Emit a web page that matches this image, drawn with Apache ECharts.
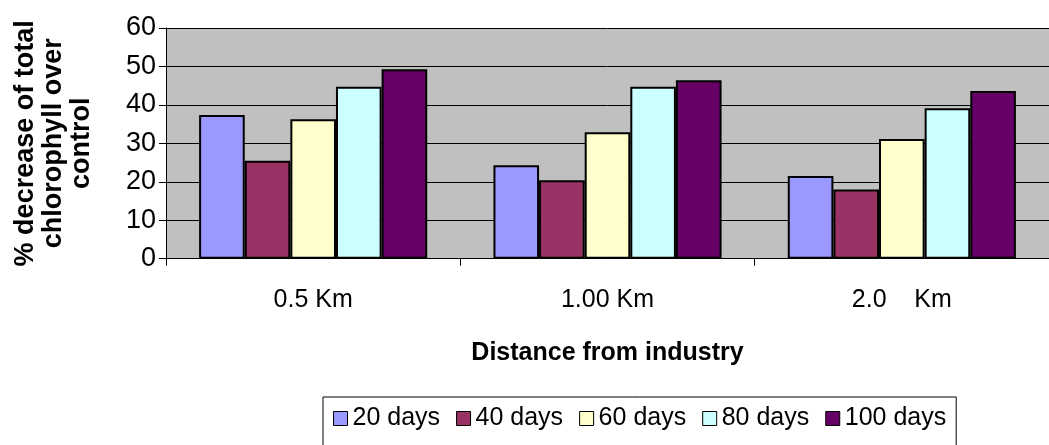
<!DOCTYPE html>
<html>
<head>
<meta charset="utf-8">
<script src="https://cdn.jsdelivr.net/npm/echarts@6/dist/echarts.min.js"></script>
<style>
  html, body { margin: 0; padding: 0; background: #ffffff; }
  #chart { width: 1049px; height: 445px; }
</style>
</head>
<body>
<div id="chart"></div>
<script>
// Distances from the industry (category axis)
var categories = ['0.5 Km', '1.00 Km', '2.0    Km'];

// % decrease of total chlorophyll over control, per exposure period
var days20  = [37.4, 24.3, 21.5];
var days40  = [25.5, 20.4, 18.0];
var days60  = [36.3, 32.9, 31.1];
var days80  = [44.7, 44.7, 39.1];
var days100 = [49.3, 46.4, 43.6];

var seriesNames = ['20 days', '40 days', '60 days', '80 days', '100 days'];
var seriesValues = [days20, days40, days60, days80, days100];
var seriesColors = ['#9999FF', '#993366', '#FFFFCC', '#CCFFFF', '#660066'];

var yTicks = { min: 0, max: 60, interval: 10 };

var fontFamily = '"Liberation Sans", Arial, sans-serif';

var chart = echarts.init(document.getElementById('chart'), null, { renderer: 'canvas' });

var series = seriesNames.map(function (name, i) {
  return {
    name: name,
    type: 'bar',
    data: seriesValues[i],
    barGap: '0%',
    barCategoryGap: '22.5%',
    itemStyle: {
      color: seriesColors[i],
      borderColor: '#000000',
      borderWidth: 2
    }
  };
});

chart.setOption({
  animation: false,
  backgroundColor: '#ffffff',
  grid: {
    left: 166,
    top: 28,
    width: 892,
    height: 230.7,
    show: true,
    backgroundColor: '#C0C0C0',
    borderWidth: 0
  },
  legend: {
    data: seriesNames,
    icon: 'rect',
    left: 323,
    top: 397,
    orient: 'horizontal',
    padding: [9, 10, 16, 10],
    itemWidth: 14,
    itemHeight: 14,
    itemGap: 16,
    borderColor: '#000000',
    borderWidth: 1,
    backgroundColor: '#ffffff',
    textStyle: { fontFamily: fontFamily, fontSize: 25, color: '#000000' },
    itemStyle: { borderColor: '#000000', borderWidth: 1 }
  },
  xAxis: {
    type: 'category',
    data: categories,
    name: 'Distance from industry',
    nameLocation: 'middle',
    nameGap: 82,
    nameTextStyle: { fontFamily: fontFamily, fontSize: 25, fontWeight: 'bold', color: '#000000' },
    axisLine: { lineStyle: { color: '#000000', width: 1 } },
    axisTick: { show: true, length: 7, lineStyle: { color: '#000000' } },
    axisLabel: { fontFamily: fontFamily, fontSize: 25, color: '#000000', margin: 29 },
    splitLine: { show: false }
  },
  yAxis: {
    type: 'value',
    min: yTicks.min,
    max: yTicks.max,
    interval: yTicks.interval,
    name: '% decrease of total\nchlorophyll over\ncontrol',
    nameLocation: 'middle',
    nameRotate: 90,
    nameGap: 70,
    nameTextStyle: {
      fontFamily: fontFamily, fontSize: 27, fontWeight: 'bold', color: '#000000',
      lineHeight: 28, align: 'center'
    },
    axisLine: { show: true, lineStyle: { color: '#000000', width: 1 } },
    axisTick: { show: true, length: 7, lineStyle: { color: '#000000' } },
    axisLabel: { fontFamily: fontFamily, fontSize: 27, color: '#000000', margin: 10 },
    splitLine: { show: true, lineStyle: { color: '#000000', width: 1 } }
  },
  series: series
});
</script>
</body>
</html>
